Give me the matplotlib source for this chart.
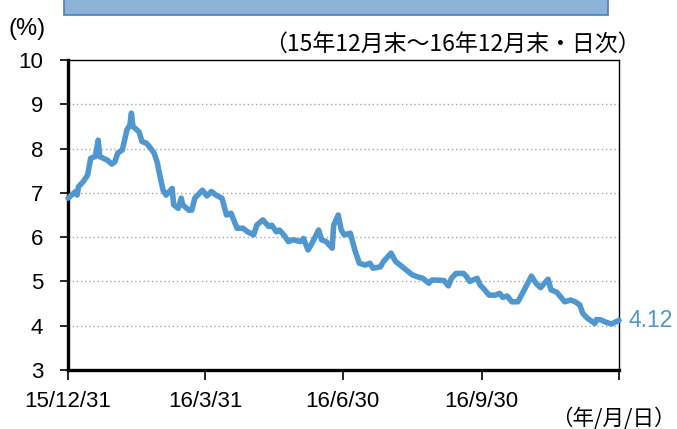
import matplotlib
matplotlib.use("Agg")
import matplotlib.pyplot as plt
from matplotlib.patches import Rectangle
import pandas as pd

dates = ["2015-12-31", "2016-01-05", "2016-01-06", "2016-01-07", "2016-01-10", "2016-01-13",
         "2016-01-15", "2016-01-18", "2016-01-20", "2016-01-21", "2016-01-26", "2016-01-29",
         "2016-01-31", "2016-02-02", "2016-02-05", "2016-02-08", "2016-02-10", "2016-02-11",
         "2016-02-12", "2016-02-16", "2016-02-18", "2016-02-21", "2016-02-23", "2016-02-26",
         "2016-02-28", "2016-03-01", "2016-03-03", "2016-03-05", "2016-03-09", "2016-03-10",
         "2016-03-13", "2016-03-15", "2016-03-16", "2016-03-20", "2016-03-22", "2016-03-24",
         "2016-03-26", "2016-03-29", "2016-04-01", "2016-04-04", "2016-04-07", "2016-04-11",
         "2016-04-14", "2016-04-17", "2016-04-21", "2016-04-25", "2016-04-28", "2016-05-02",
         "2016-05-04", "2016-05-08", "2016-05-12", "2016-05-14", "2016-05-17", "2016-05-19",
         "2016-05-22", "2016-05-25", "2016-05-28", "2016-06-02", "2016-06-04", "2016-06-07",
         "2016-06-09", "2016-06-14", "2016-06-16", "2016-06-19", "2016-06-23", "2016-06-24",
         "2016-06-27", "2016-06-29", "2016-07-01", "2016-07-05", "2016-07-08", "2016-07-11",
         "2016-07-15", "2016-07-18", "2016-07-20", "2016-07-25", "2016-07-27", "2016-08-01",
         "2016-08-04", "2016-08-07", "2016-08-11", "2016-08-15", "2016-08-18", "2016-08-22",
         "2016-08-26", "2016-08-28", "2016-08-31", "2016-09-05", "2016-09-08", "2016-09-10",
         "2016-09-13", "2016-09-18", "2016-09-20", "2016-09-22", "2016-09-27", "2016-09-29",
         "2016-10-01", "2016-10-05", "2016-10-09", "2016-10-12", "2016-10-14", "2016-10-17",
         "2016-10-20", "2016-10-24", "2016-10-27", "2016-11-02", "2016-11-05", "2016-11-08",
         "2016-11-13", "2016-11-15", "2016-11-19", "2016-11-24", "2016-11-28", "2016-12-01",
         "2016-12-04", "2016-12-06", "2016-12-09", "2016-12-14", "2016-12-15", "2016-12-18",
         "2016-12-22", "2016-12-25", "2016-12-30"]
values = [6.88, 7.03, 6.95, 7.14, 7.25, 7.40,
          7.78, 7.82, 8.19, 7.82, 7.74, 7.65,
          7.70, 7.90, 7.97, 8.42, 8.53, 8.80,
          8.50, 8.38, 8.16, 8.12, 8.04, 7.90,
          7.70, 7.37, 7.06, 6.95, 7.10, 6.73,
          6.65, 6.88, 6.73, 6.61, 6.61, 6.88,
          6.95, 7.06, 6.93, 7.03, 6.95, 6.88,
          6.50, 6.54, 6.20, 6.20, 6.12, 6.05,
          6.27, 6.39, 6.24, 6.27, 6.12, 6.16,
          6.05, 5.90, 5.94, 5.90, 5.97, 5.71,
          5.82, 6.16, 5.94, 5.90, 5.75, 6.27,
          6.50, 6.16, 6.05, 6.09, 5.71, 5.41,
          5.37, 5.41, 5.30, 5.33, 5.45, 5.64,
          5.45, 5.37, 5.26, 5.15, 5.11, 5.07,
          4.96, 5.03, 5.03, 5.02, 4.90, 5.07,
          5.18, 5.18, 5.11, 5.00, 5.07, 4.92,
          4.85, 4.69, 4.69, 4.73, 4.64, 4.67,
          4.54, 4.54, 4.73, 5.12, 4.96, 4.86,
          5.05, 4.81, 4.75, 4.54, 4.58, 4.54,
          4.47, 4.28, 4.17, 4.05, 4.14, 4.13,
          4.07, 4.04, 4.12]

tick_dates = ["2015-12-31", "2016-03-31", "2016-06-30", "2016-09-30", "2016-12-30"]
tick_labels = ["15/12/31", "16/3/31", "16/6/30", "16/9/30", ""]
y_ticks = [3, 4, 5, 6, 7, 8, 9, 10]
last_label = "4.12"

x = pd.to_datetime(dates)
tx = pd.to_datetime(tick_dates)

line_color = "#4F97CE"
jp = ["Noto Sans CJK JP", "DejaVu Sans"]
num_font = ["Liberation Sans", "DejaVu Sans"]

fig = plt.figure(figsize=(6.77, 4.29), dpi=100)
ax = fig.add_axes([68/677, 1-370/429, (619-68)/677, (370-60)/429])

ax.plot(x, values, color=line_color, lw=4.0, solid_joinstyle="round", solid_capstyle="round",
        zorder=3, clip_on=False)

ax.set_xlim(tx[0], tx[-1])
ax.set_ylim(3, 10)
ax.set_yticks(y_ticks)
ax.set_yticklabels([str(v) for v in y_ticks], fontfamily=num_font, fontsize=16)
ax.set_xticks(tx)
ax.set_xticklabels(tick_labels, fontfamily=num_font, fontsize=16)

for v in y_ticks[1:-1]:
    ax.axhline(v, color="#A6A6A6", lw=1.0, ls=(0, (1, 2)), zorder=1)

for side in ["left", "bottom"]:
    ax.spines[side].set_linewidth(2.4)
for side in ["top", "right"]:
    ax.spines[side].set_linewidth(1.0)
ax.tick_params(axis="y", direction="out", length=6, width=1.2, pad=12)
ax.tick_params(axis="x", direction="out", length=7, width=1.2, pad=8)

ax.annotate(last_label, xy=(x[-1], values[-1]), xytext=(7, 0), textcoords="offset points",
            ha="left", va="center", color=line_color, fontsize=16.5, fontfamily=num_font,
            annotation_clip=False)

fig.text(9/677, 1-29/429, "(%)", fontsize=17, fontfamily=num_font, ha="left", va="center")
fig.text(641/677, 1-44/429, "（15年12月末～16年12月末・日次）", fontsize=16.5, fontfamily=jp,
         ha="right", va="center")
fig.text(676/677, 1-419/429, "（年/月/日）", fontsize=15.5, fontfamily=jp, ha="right", va="center")

fig.patches.append(Rectangle((64/677, 1-15/429), (608-64)/677, 20/429, transform=fig.transFigure,
                             facecolor="#8DB2D8", edgecolor="#4A7EBB", lw=1.2, zorder=0))

fig.savefig("out.png", dpi=100)
